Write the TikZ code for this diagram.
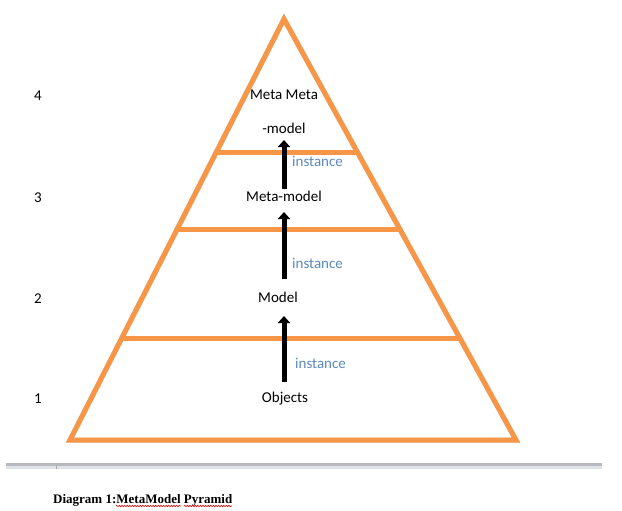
\documentclass[tikz,border=0pt]{standalone}
\usepackage{fontspec}
\setmainfont{Carlito}
\newfontfamily\capfont{Liberation Serif}
\usetikzlibrary{arrows.meta,calc,decorations.pathmorphing}
\definecolor{pyr}{HTML}{F79646}
\definecolor{inst}{HTML}{5B89C4}
\definecolor{bartop}{HTML}{B8BABE}
\definecolor{barlow}{HTML}{DEE2E8}
\begin{document}
\begin{tikzpicture}[x=1pt,y=-1pt,
  edge/.style={draw=pyr,line width=5pt,line join=miter,line cap=round},
  shadow/.style={draw=black!45,opacity=0.35,line width=5pt,line cap=round},
  lbl/.style={anchor=base,inner sep=0pt,font=\fontsize{15}{18}\selectfont},
  inst/.style={lbl,anchor=base west,text=inst},
  num/.style={lbl},
  arr/.style={line width=5pt,-{Triangle[length=7pt,width=12pt]}},
  squig/.style={draw=red!85!black,line width=0.6pt,decorate,decoration={snake,amplitude=0.7pt,segment length=2.6pt}}]
\useasboundingbox[fill=white] (0,0) rectangle (622,511);
% pyramid corners
\coordinate (T) at (284,19);
\coordinate (L) at (70,440);
\coordinate (R) at (516,440);
\coordinate (l1) at ($(T)!0.316!(L)$);
\coordinate (r1) at ($(T)!0.316!(R)$);
\coordinate (l2) at ($(T)!0.501!(L)$);
\coordinate (r2) at ($(T)!0.501!(R)$);
\coordinate (l3) at ($(T)!0.758!(L)$);
\coordinate (r3) at ($(T)!0.758!(R)$);
% shadows
\begin{scope}[shift={(1.5,2)}]
\draw[shadow] (T) -- (L) -- (R) -- cycle;
\draw[shadow] (l1) -- (r1);
\draw[shadow] (l2) -- (r2);
\draw[shadow] (l3) -- (r3);
\end{scope}
\draw[edge] (T) -- (L) -- (R) -- cycle;
\draw[edge] (l1) -- (r1);
\draw[edge] (l2) -- (r2);
\draw[edge] (l3) -- (r3);
% level labels
\node[lbl] (mm1) at (284,100) {Meta Meta};
\node[lbl] (mm2) at (284,133) {-model};
\node[lbl] (meta) at (284,201) {Meta-model};
\node[lbl] (model) at (278,302) {Model};
\node[lbl] (obj) at (285,402) {Objects};
% numbers
\node[num] (n4) at (38,101) {4};
\node[num] (n3) at (38,202) {3};
\node[num] (n2) at (38,303) {2};
\node[num] (n1) at (38,403) {1};
% arrows
\coordinate (a1s) at (284,189);
\coordinate (a1e) at (284,140);
\coordinate (a2s) at (284,279);
\coordinate (a2e) at (284,212);
\coordinate (a3s) at (284,382);
\coordinate (a3e) at (284,316);
\draw[arr] (a1s) -- (a1e);
\draw[arr] (a2s) -- (a2e);
\draw[arr] (a3s) -- (a3e);
\node[inst] (i1) at (292,166) {instance};
\node[inst] (i2) at (292,268) {instance};
\node[inst] (i3) at (295,368) {instance};
% page separator bar
\fill[bartop] (6,463) rectangle (602,465.5);
\fill[barlow] (6,465.5) rectangle (602,469);
\draw[black!35,line width=0.6pt] (56,465.5) -- (56,469);
% caption
\node[anchor=base west,inner sep=0pt,font=\capfont\bfseries\fontsize{13}{15}\selectfont] (cap) at (53,503) {Diagram 1:MetaModel Pyramid};
\draw[squig] (116,506) -- (181,506);
\draw[squig] (184,506) -- (232,506);
\end{tikzpicture}
\end{document}
